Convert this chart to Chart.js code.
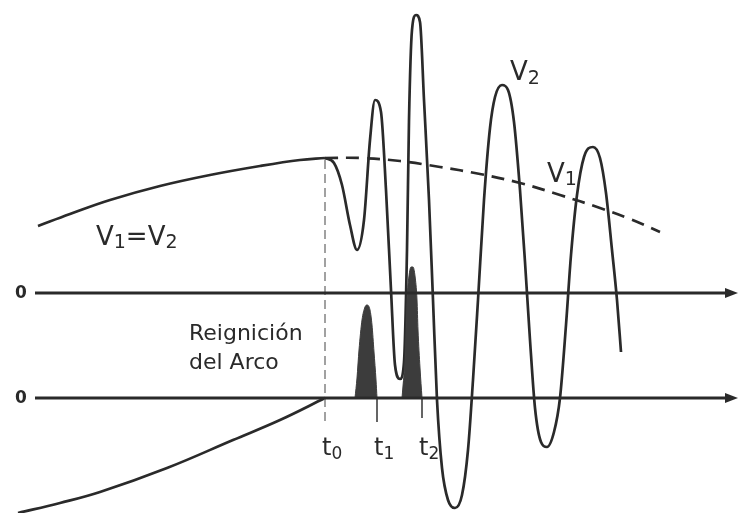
<!DOCTYPE html>
<html>
<head>
<meta charset="utf-8">
<script src="https://cdn.jsdelivr.net/npm/chart.js@4/dist/chart.umd.min.js"></script>
<style>
  html, body { margin: 0; padding: 0; background: #fff; }
  #wrap { width: 748px; height: 513px; }
</style>
</head>
<body>
<div id="wrap"><canvas id="canvas"></canvas></div>
<script>
// values (x = time, y = voltage, image units, y grows downwards)
const commonCurve = [[38, 226], [70, 214], [110, 200], [160, 186], [210, 175], [260, 166], [300, 160], [325, 158]];
const v1Curve = [[325, 158], [360, 158], [400, 161], [440, 167], [480, 174], [520, 183], [560, 195], [600, 208], [630, 219], [660, 232]];
const v2Curve = [
    [325, 158], [334, 163], [342, 185], [350, 225], [357, 250], [364, 220], [370, 140], [375, 100], [381, 112],
    [386, 190], [391, 290], [395, 365], [400, 379], [404, 362], [407, 250], [409, 120], [412, 30], [416, 15],
    [420, 22], [424, 100], [429, 200], [433, 300], [437, 400], [442, 468], [448, 500], [455, 508], [462, 495],
    [468, 450], [473, 380], [478, 300], [484, 200], [490, 128], [495, 97], [502, 85], [508, 90], [514, 122],
    [520, 190], [525, 262], [530, 340], [535, 408], [541, 442], [547, 447], [554, 432], [560, 398], [566, 325],
    [571, 255], [577, 195], [584, 157], [593, 147], [600, 158], [606, 193], [612, 250], [617, 300], [621, 352]
];
const currentCurve = [[18, 513], [60, 503], [100, 492], [167, 468], [233, 440], [280, 420], [325, 398]];
const arc1 = [[355, 398], [357, 378], [359, 350], [362, 320], [365, 307], [367, 305], [370, 310], [372, 325], [374, 352], [376, 380], [377, 398]];
const arc2 = [[402, 398], [403, 386], [405, 360], [406, 330], [407, 300], [409, 276], [411, 267], [413, 267], [415, 276], [417, 300], [418, 330], [420, 368], [422, 398]];
const upperZero = 293;
const lowerZero = 398;
const axisStart = 35;
const axisEnd = 730;
const tMarks = [325, 377, 422];
const tLabels = ['0', '1', '2'];

const ink = '#2a2a2a';
const pts = (arr) => arr.map(([x, y]) => ({ x: x, y: y }));

function lineSet(data, extra) {
    return Object.assign({
        data: pts(data),
        showLine: true,
        borderColor: ink,
        borderWidth: 2.7,
        pointRadius: 0,
        fill: false,
        clip: false,
    }, extra || {});
}

const datasets = [
    lineSet([[axisStart, upperZero], [axisEnd, upperZero]], { borderWidth: 3 }),
    lineSet([[axisStart, lowerZero], [axisEnd, lowerZero]], { borderWidth: 3 }),
    lineSet([[tMarks[0], 160], [tMarks[0], 424]], { borderColor: '#8a8a8a', borderWidth: 1.6, borderDash: [9, 5] }),
    lineSet([[tMarks[1], lowerZero], [tMarks[1], 422]], { borderColor: '#555', borderWidth: 1.8 }),
    lineSet([[tMarks[2], lowerZero], [tMarks[2], 418]], { borderColor: '#555', borderWidth: 1.8 }),
    lineSet(arc1, { borderWidth: 1, borderColor: '#3c3c3c', backgroundColor: '#3c3c3c', fill: { value: lowerZero }, cubicInterpolationMode: 'monotone' }),
    lineSet(arc2, { borderWidth: 1, borderColor: '#3c3c3c', backgroundColor: '#3c3c3c', fill: { value: lowerZero }, cubicInterpolationMode: 'monotone' }),
    lineSet(commonCurve, { tension: 0.4 }),
    lineSet(v1Curve, { borderDash: [13, 8], tension: 0.4 }),
    lineSet(v2Curve, { cubicInterpolationMode: 'monotone' }),
    lineSet(currentCurve, { tension: 0.4 }),
];

// text pieces: [text, size, baseline shift]
const labels = [
    { x: 96, y: 245, parts: [['V', 26, 0], ['1', 19, 3], ['=', 26, 0], ['V', 26, 0], ['2', 19, 3]] },
    { x: 510, y: 80, parts: [['V', 26, 0], ['2', 19, 4]] },
    { x: 547, y: 182, parts: [['V', 26, 0], ['1', 19, 3]] },
    { x: 189, y: 340, parts: [['Reignición', 22, 0]] },
    { x: 189, y: 369, parts: [['del Arco', 22, 0]] },
];

const figurePlugin = {
    id: 'figure',
    afterDatasetsDraw(chart) {
        const ctx = chart.ctx;
        const sx = chart.scales.x;
        const sy = chart.scales.y;
        ctx.save();
        ctx.fillStyle = ink;

        // arrow heads
        [upperZero, lowerZero].forEach((y0) => {
            const px = sx.getPixelForValue(axisEnd);
            const py = sy.getPixelForValue(y0);
            ctx.beginPath();
            ctx.moveTo(px + 8, py);
            ctx.lineTo(px - 5, py - 5);
            ctx.lineTo(px - 5, py + 5);
            ctx.closePath();
            ctx.fill();
        });

        // zero marks
        ctx.font = 'bold 17px "DejaVu Sans"';
        ctx.textBaseline = 'middle';
        ctx.textAlign = 'left';
        [upperZero, lowerZero].forEach((y0) => {
            ctx.fillText('0', sx.getPixelForValue(15), sy.getPixelForValue(y0) + 1);
        });

        ctx.textBaseline = 'alphabetic';
        const drawParts = (x, y, parts) => {
            let cx = sx.getPixelForValue(x);
            const by = sy.getPixelForValue(y);
            parts.forEach(([txt, size, shift]) => {
                ctx.font = size + 'px "DejaVu Sans"';
                ctx.fillText(txt, cx, by + shift);
                cx += ctx.measureText(txt).width;
            });
        };
        labels.forEach((l) => drawParts(l.x, l.y, l.parts));

        // t0, t1, t2
        tMarks.forEach((t, i) => {
            drawParts(t - 3, 455, [['t', 24, 0], [tLabels[i], 17, 4]]);
        });
        ctx.restore();
    },
};

const ctx = document.getElementById('canvas');
new Chart(ctx, {
    type: 'scatter',
    data: { datasets: datasets },
    options: {
        responsive: true,
        maintainAspectRatio: false,
        animation: false,
        layout: { padding: 0 },
        plugins: {
            legend: { display: false },
            tooltip: { enabled: false },
        },
        scales: {
            x: { type: 'linear', min: 0, max: 748, display: false },
            y: { type: 'linear', min: 0, max: 513, reverse: true, display: false },
        },
    },
    plugins: [figurePlugin],
});
</script>
</body>
</html>
